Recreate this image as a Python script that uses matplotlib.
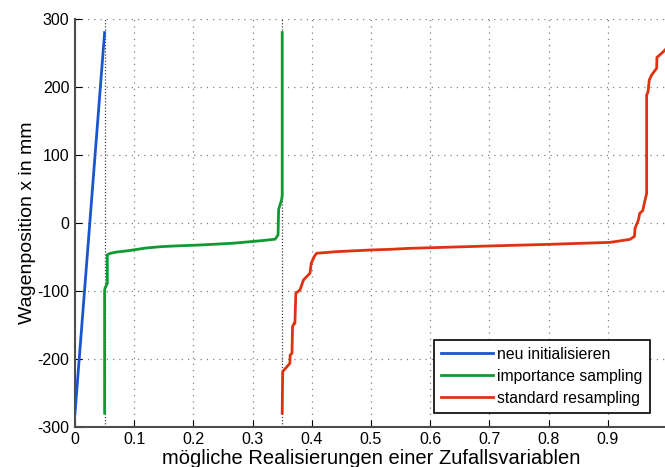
import matplotlib
matplotlib.use("Agg")
import matplotlib.pyplot as plt

plt.rcParams['font.family'] = ['Liberation Sans', 'DejaVu Sans']
plt.rcParams['axes.unicode_minus'] = False

blue_x = [0.0, 0.05]
blue_y = [-280, 280]

green_x = [0.05, 0.05, 0.0507, 0.0546, 0.0546, 0.059, 0.07, 0.09, 0.12, 0.146, 0.169, 0.211, 0.267,
           0.318, 0.338, 0.343, 0.344, 0.349, 0.35, 0.35]
green_y = [-280, -100, -96, -89, -47, -45, -43, -41, -37, -35, -34, -32.6, -30,
           -26, -24, -18, 20, 34, 40, 280]

red_x = [0.35, 0.3508, 0.363, 0.3635, 0.3665, 0.3675, 0.370, 0.3715, 0.373, 0.38, 0.386,
         0.397, 0.399, 0.404, 0.408, 0.442, 0.498, 0.532, 0.566, 0.701, 0.802, 0.904,
         0.9375, 0.945, 0.946, 0.9516, 0.954, 0.959, 0.963, 0.9656, 0.9656, 0.968,
         0.970, 0.974, 0.9825, 0.983, 0.991, 0.9966, 1.0]
red_y = [-280, -219, -206.7, -194.5, -192, -152.8, -148, -148, -103.7, -98.8, -84,
         -74, -59.6, -49.8, -44.8, -42.4, -40, -39, -37.5, -34, -31.6, -28.7,
         -24.3, -20, -8, 4, 14, 18, 33.6, 43, 188, 193,
         210, 217.6, 227.4, 243.6, 249.5, 254.4, 258]

vlines_x = [0.05, 0.35]
labels = ['neu initialisieren', 'importance sampling', 'standard resampling']
xticks = [0, 0.1, 0.2, 0.3, 0.4, 0.5, 0.6, 0.7, 0.8, 0.9]
xticklabels = ['0', '0.1', '0.2', '0.3', '0.4', '0.5', '0.6', '0.7', '0.8', '0.9']
yticks = [-300, -200, -100, 0, 100, 200, 300]

fig = plt.figure(figsize=(6.65, 4.67), dpi=100)
ax = fig.add_axes([75/665, 40.3/467, 592/665, 407.7/467])

for xv in vlines_x:
    ax.axvline(xv, color='0.25', linestyle=(0, (1, 1.5)), linewidth=0.9, zorder=1)

ax.plot(blue_x, blue_y, color='#1a55d0', linewidth=2, label=labels[0], zorder=3)
ax.plot(green_x, green_y, color='#119933', linewidth=2, label=labels[1], zorder=3)
ax.plot(red_x, red_y, color='#dd3311', linewidth=2, label=labels[2], zorder=3)

ax.set_xlim(0, 1.0)
ax.set_ylim(-300, 300)
ax.set_xticks(xticks)
ax.set_xticklabels(xticklabels)
ax.set_yticks(yticks)
ax.grid(True, color='0.5', linestyle=(0, (1, 4)), linewidth=0.9)
ax.tick_params(direction='in', length=5, labelsize=11.5, color='black', pad=4)
for s in ['top', 'right']:
    ax.spines[s].set_visible(False)
for s in ['left', 'bottom']:
    ax.spines[s].set_color('0.3')
    ax.spines[s].set_linewidth(1.5)

ax.set_xlabel('mögliche Realisierungen einer Zufallsvariablen', fontsize=14.5, labelpad=1)
ax.set_ylabel('Wagenposition x in mm', fontsize=14, labelpad=1)

leg = ax.legend(loc='lower right', bbox_to_anchor=(0.971, 0.034), fontsize=11.3,
                fancybox=False, framealpha=1, edgecolor='black', handlelength=3.3,
                borderpad=0.45, labelspacing=0.45, handletextpad=0.3, borderaxespad=0)
leg.get_frame().set_linewidth(1.2)

fig.savefig('out.png', dpi=100)
